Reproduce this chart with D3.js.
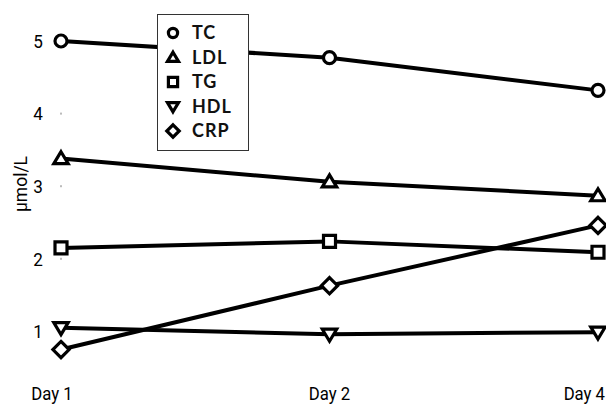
<!DOCTYPE html>
<html><head><meta charset="utf-8">
<script src="https://cdn.jsdelivr.net/npm/d3@7/dist/d3.min.js"></script>
<style>
body{margin:0;background:#fff;}
svg{display:block;}
</style></head>
<body><svg id="c" width="606" height="406"></svg>
<script>
const days = ["Day 1","Day 2","Day 4"];
const seriesNames = ["TC","LDL","TG","HDL","CRP"];
const TC  = [5.00, 4.77, 4.32];
const LDL = [3.38, 3.06, 2.87];
const TG  = [2.15, 2.24, 2.09];
const HDL = [1.05, 0.96, 0.99];
const CRP = [0.75, 1.63, 2.46];
const yTicks = [1,2,3,4,5];
const yLabel = "µmol/L";

const seriesValues = [TC, LDL, TG, HDL, CRP];
const shapes = ["circle","triUp","square","triDown","diamond"];
const condFont = "Roboto, 'DejaVu Sans', sans-serif";

const svg = d3.select("#c");
const x = d3.scalePoint().domain(days).range([61, 598]);
const y = d3.scaleLinear().domain([0, 5]).range([404, 41]);

// y tick marks (small grey dots)
svg.append("g").selectAll("rect").data(yTicks).join("rect")
  .attr("x", 60).attr("y", d => y(d) - 1).attr("width", 2).attr("height", 2)
  .attr("fill", "#bbb");

// y tick labels
svg.append("g").selectAll("text").data(yTicks).join("text")
  .attr("transform", d => `translate(38,${y(d)}) scale(0.9,1)`).attr("dy","0.36em")
  .attr("font-family", condFont)
  .attr("text-anchor","middle").attr("font-size", 19).attr("fill","#000")
  .text(d => d);

// y axis label
svg.append("text")
  .attr("transform","translate(27,184) rotate(-90) scale(0.92,1)")
  .attr("font-family", condFont)
  .attr("text-anchor","middle").attr("font-size",19).attr("fill","#000")
  .text(yLabel);

// x labels
const xOff = {"Day 1": [-9,"middle"], "Day 2": [0,"middle"], "Day 4": [7,"end"]};
svg.append("g").selectAll("text").data(days).join("text")
  .attr("transform", d => `translate(${x(d) + xOff[d][0]},400) scale(0.88,1)`)
  .attr("font-family", condFont)
  .attr("text-anchor", d => xOff[d][1]).attr("font-size", 19).attr("fill","#000")
  .text(d => d);

function symbolPath(shape, s) {
  switch (shape) {
    case "circle": return d3.symbol(d3.symbolCircle, Math.PI*s*s)();
    case "square": return `M${-s},${-s}H${s}V${s}H${-s}Z`;
    case "triUp":  return `M0,${-s*1.15}L${s*1.2},${s*0.85}L${-s*1.2},${s*0.85}Z`;
    case "triDown":return `M0,${s*1.15}L${s*1.2},${-s*0.85}L${-s*1.2},${-s*0.85}Z`;
    case "diamond":return `M0,${-s*1.35}L${s*1.35},0L0,${s*1.35}L${-s*1.35},0Z`;
  }
}

const line = d3.line().x((d,i) => x(days[i])).y(d => y(d));

// lines
svg.append("g").selectAll("path").data(seriesValues).join("path")
  .attr("d", d => line(d)).attr("fill","none").attr("stroke","#000")
  .attr("stroke-width", 4).attr("stroke-linejoin","round");

// markers
seriesValues.forEach((vals, si) => {
  svg.append("g").selectAll("path").data(vals).join("path")
    .attr("transform", (d,i) => `translate(${x(days[i])},${y(d)})`)
    .attr("d", symbolPath(shapes[si], 6))
    .attr("fill","#fff").attr("stroke","#000").attr("stroke-width",3.2);
});

// legend
const lg = svg.append("g");
lg.append("rect").attr("x",157.5).attr("y",14.5).attr("width",91).attr("height",136)
  .attr("fill","#fff").attr("stroke","#333").attr("stroke-width",1);
const ly = d3.scalePoint().domain(seriesNames).range([33, 131]);
seriesNames.forEach((n, i) => {
  lg.append("path").attr("transform",`translate(173,${ly(n)})`)
    .attr("d", symbolPath(shapes[i], 4.6))
    .attr("fill","#fff").attr("stroke","#000").attr("stroke-width",3.2);
  lg.append("text").attr("x",192).attr("y",ly(n)).attr("dy","0.36em")
    .attr("font-family","Lato,'Open Sans',sans-serif").attr("font-weight",700)
    .attr("letter-spacing", 1)
    .attr("font-size",18).attr("fill","#111").text(n);
});
</script></body></html>
